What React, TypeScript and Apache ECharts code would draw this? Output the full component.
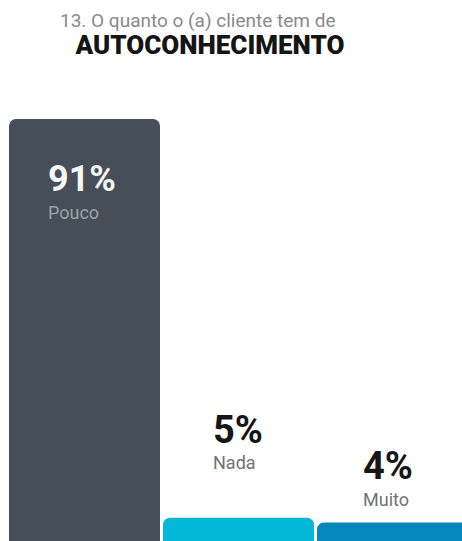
import React, { useEffect, useRef } from "react";
import * as echarts from "echarts";

// Survey answer shares (percent) and their category names
const categories = ["Pouco", "Nada", "Muito"];
const shares = [91, 5, 4];
const barColors = ["#464e58", "#05b7d6", "#0487bb"];

const titleLine1 = "13. O quanto o (a) cliente tem de";
const titleLine2 = "AUTOCONHECIMENTO";

const FONT = "Roboto, 'Noto Sans', sans-serif";

export default function App() {
  const ref = useRef<HTMLDivElement>(null);

  useEffect(() => {
    if (!ref.current) return;
    const chart = echarts.init(ref.current, null, { renderer: "svg" });

    // label placement relative to each bar's top-left corner
    const labelPos: [number, number][] = [
      [39, 38],
      [50, -110],
      [46, -78],
    ];
    const valueColor = ["#f7f7f7", "#161616", "#161616"];
    const nameColor = ["#9ca2a8", "#727272", "#727272"];
    const valueSize = [36, 38, 38];

    const data = shares.map((v, i) => ({
      value: v,
      name: categories[i],
      itemStyle: { color: barColors[i], borderRadius: [7, 7, 0, 0] },
      label: {
        show: true,
        position: labelPos[i],
        formatter: `{v|${v}%}\n{n|${categories[i]}}`,
        rich: {
          v: {
            fontFamily: FONT,
            fontWeight: "bold",
            fontSize: valueSize[i],
            lineHeight: 44,
            color: valueColor[i],
          },
          n: {
            fontFamily: FONT,
            fontSize: 18,
            lineHeight: 22,
            color: nameColor[i],
          },
        },
      },
    }));

    chart.setOption({
      animation: false,
      // the plot runs past the right edge so the last bar is cropped
      grid: {
        left: 7.5,
        right: -7.5,
        top: 77.3,
        bottom: 0,
        outerBoundsMode: "none",
      },
      xAxis: {
        type: "category",
        data: categories,
        show: false,
      },
      yAxis: {
        type: "value",
        min: 0,
        max: 100,
        show: false,
      },
      series: [
        {
          type: "bar",
          barWidth: 151,
          data,
        },
      ],
      graphic: [
        {
          type: "text",
          x: 60,
          y: 11,
          style: {
            text: titleLine1,
            fontFamily: FONT,
            fontSize: 19,
            fill: "#8a8a8a",
            textAlign: "left",
            textVerticalAlign: "top",
          },
        },
        {
          type: "text",
          x: 210,
          y: 32,
          style: {
            text: titleLine2,
            fontFamily: FONT,
            fontWeight: 900,
            fontSize: 26,
            fill: "#151515",
            textAlign: "center",
            textVerticalAlign: "top",
          },
        },
      ],
    });

    return () => chart.dispose();
  }, []);

  return (
    <div
      ref={ref}
      style={{ position: "fixed", left: 0, top: 0, width: 462, height: 541, background: "#fff" }}
    />
  );
}
